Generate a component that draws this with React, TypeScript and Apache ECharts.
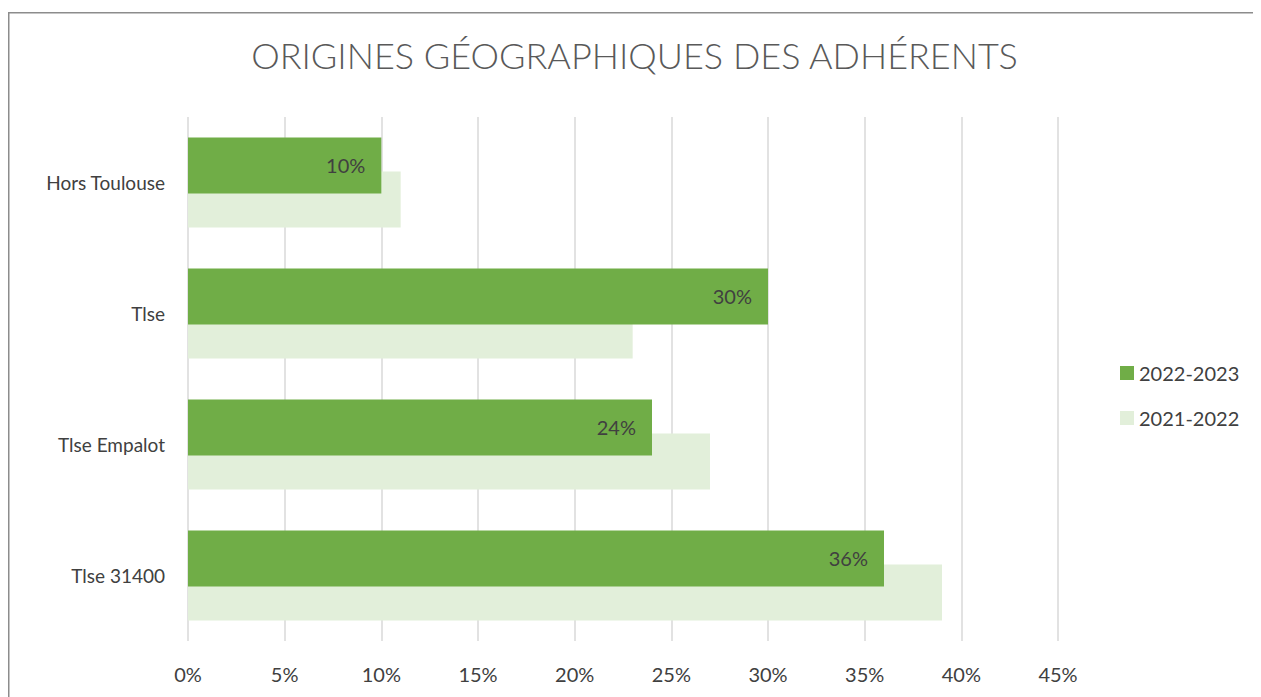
import React, { useEffect, useRef } from "react";
import * as echarts from "echarts";

const categories = ["Tlse 31400", "Tlse Empalot", "Tlse", "Hors Toulouse"];
const series2022_2023 = [36, 24, 30, 10];
const series2021_2022 = [39, 27, 23, 11];
const seriesNames = ["2022-2023", "2021-2022"];
const titleText = "ORIGINES GÉOGRAPHIQUES DES ADHÉRENTS";

const FONT = "Lato, 'Open Sans', sans-serif";

export default function App() {
  const ref = useRef<HTMLDivElement>(null);
  useEffect(() => {
    if (!ref.current) return;
    const chart = echarts.init(ref.current, null, { renderer: "svg" });
    chart.setOption({
      animation: false,
      backgroundColor: "#ffffff",
      textStyle: { fontFamily: FONT },
      title: {
        text: titleText,
        left: "center",
        top: 24,
        textStyle: {
          fontFamily: FONT,
          fontWeight: 300,
          fontSize: 36,
          color: "#595959",
        },
      },
      graphic: [
        {
          type: "polyline",
          shape: { points: [[0.75, 700], [0.75, 4.75], [1300, 4.75]] },
          style: { stroke: "#8c8c8c", lineWidth: 1.5, fill: "none" },
          silent: true,
        },
      ],
      legend: {
        orient: "vertical",
        left: 1107,
        top: 350,
        data: [seriesNames[0], seriesNames[1]],
        itemWidth: 14,
        itemHeight: 14,
        itemGap: 25,
        icon: "rect",
        textStyle: { fontFamily: FONT, fontSize: 20, color: "#404040", lineHeight: 20 },
      },
      grid: { left: 180, right: 203, top: 109, bottom: 56, containLabel: false },
      xAxis: {
        type: "value",
        min: 0,
        max: 45,
        interval: 5,
        axisLine: { show: false },
        axisTick: { show: false },
        axisLabel: {
          formatter: "{value}%",
          fontFamily: FONT,
          fontSize: 20,
          color: "#404040",
          margin: 23,
        },
        splitLine: { lineStyle: { color: "#d9d9d9", width: 1.5 } },
      },
      yAxis: {
        type: "category",
        data: categories,
        axisLine: { show: false },
        axisTick: { show: false },
        axisLabel: {
          fontFamily: FONT,
          fontSize: 19,
          color: "#404040",
          margin: 23,
        },
      },
      series: [
        {
          name: seriesNames[0],
          type: "bar",
          data: series2022_2023,
          barWidth: 56,
          barGap: "-39%",
          z: 3,
          itemStyle: { color: "#70AD47" },
          label: {
            show: true,
            position: "insideRight",
            distance: 16,
            formatter: "{c}%",
            fontFamily: FONT,
            fontSize: 20,
            color: "#404040",
          },
        },
        {
          name: seriesNames[1],
          type: "bar",
          data: series2021_2022,
          barWidth: 56,
          barGap: "-39%",
          z: 2,
          itemStyle: { color: "#E2EFDA" },
        },
      ],
    });
    return () => chart.dispose();
  }, []);
  return <div ref={ref} style={{ width: 1253, height: 689 }} />;
}
